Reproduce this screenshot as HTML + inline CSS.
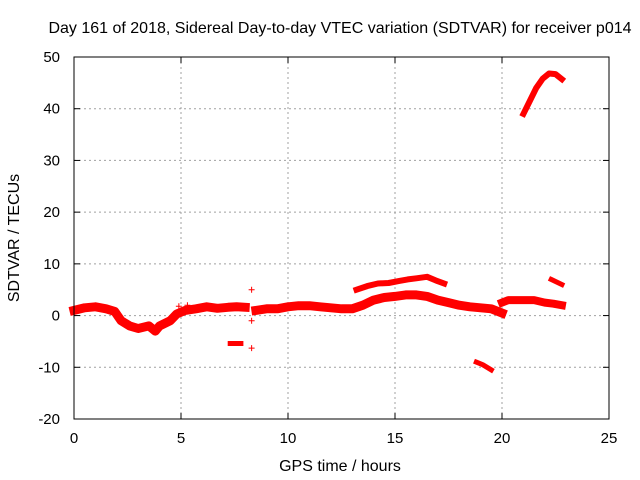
<!DOCTYPE html>
<html><head><meta charset="utf-8"><style>
body{margin:0;background:#fff;}
svg{display:block;font-family:"Liberation Sans",sans-serif;}
</style></head><body>
<svg id="chart" width="640" height="480">
<rect width="640" height="480" fill="#fff"/>
<text x="340" y="33" font-size="16" text-anchor="middle">Day 161 of 2018, Sidereal Day-to-day VTEC variation (SDTVAR) for receiver p014</text>
<text x="340" y="471" font-size="16" text-anchor="middle">GPS time / hours</text>
<text transform="translate(19,238) rotate(-90)" font-size="16" text-anchor="middle">SDTVAR / TECUs</text>
<g id="grid"></g><g id="marks"></g><g id="axes"></g>
</svg>
<script>
const xTicks=[0,5,10,15,20,25];
const yTicks=[-20,-10,0,10,20,30,40,50];
const mainX=[0,0.5,1,1.5,1.9,2.2,2.6,3,3.5,3.8,4,4.5,4.8,5.2,5.7,6.2,6.7,7.2,7.6,8];
const mainY=[1,1.5,1.7,1.3,0.8,-1,-2,-2.5,-2,-3,-2,-1,0.3,1,1.3,1.7,1.4,1.6,1.7,1.6];
const midX=[8.5,9,9.5,10,10.5,11,11.5,12,12.5,13,13.5,14,14.5,15,15.5,16,16.5,17,17.5,18,18.5,19,19.5,20];
const midY=[1,1.3,1.3,1.7,1.9,1.9,1.7,1.5,1.3,1.3,2,3,3.5,3.7,4,4,3.7,3,2.5,2,1.7,1.5,1.3,0.5];
const lateX=[20,20.3,20.7,21,21.5,22,22.4,22.8];
const lateY=[2.5,3,3,3,3,2.5,2.3,2];
const upperX=[13.2,13.7,14.2,14.7,15.2,15.6,16,16.5,16.9,17.3];
const upperY=[5,5.7,6.2,6.3,6.7,7,7.2,7.5,6.8,6.2];
const dipX=[7.3,7.8];
const dipY=[-5.4,-5.4];
const negX=[18.8,19.1,19.5];
const negY=[-9,-9.5,-10.5];
const arcX=[21,21.3,21.6,21.9,22.2,22.5,22.8];
const arcY=[39,41.5,44,45.8,46.8,46.7,45.7];
const tailX=[22.3,22.8];
const tailY=[7,6];
const ptsX=[8.3,8.3,8.3,4.9,5.3];
const ptsY=[5,-6.3,-1,1.8,2];
const X0=74,X1=609,Y0=419,Y1=57;
const sx=v=>X0+(v-0)/25*(X1-X0);
const sy=v=>Y0-(v+20)/70*(Y0-Y1);
const NS="http://www.w3.org/2000/svg";
const g=document.getElementById('grid'),m=document.getElementById('marks'),a=document.getElementById('axes');
function el(t,at,p){const e=document.createElementNS(NS,t);for(const k in at)e.setAttribute(k,at[k]);p.appendChild(e);return e;}
xTicks.forEach(t=>{const x=sx(t);
 if(t>0&&t<25){const l=el('line',{x1:x,x2:x,y1:Y1,y2:Y0,stroke:'#a0a0a0','stroke-dasharray':'2,3','stroke-width':1},g);
 
 }
 el('line',{x1:x,x2:x,y1:Y0,y2:Y0-6,stroke:'#000'},a);el('line',{x1:x,x2:x,y1:Y1,y2:Y1+6,stroke:'#000'},a);
 const tx=el('text',{x:x,y:Y0+24,'font-size':15,'text-anchor':'middle'},a);tx.textContent=t;
 
 });
yTicks.forEach(t=>{const y=sy(t);
 if(t>-20&&t<50){const l=el('line',{x1:X0,x2:X1,y1:y,y2:y,stroke:'#a0a0a0','stroke-dasharray':'2,3','stroke-width':1},g);
 
 }
 el('line',{x1:X0,x2:X0+6,y1:y,y2:y,stroke:'#000'},a);el('line',{x1:X1,x2:X1-6,y1:y,y2:y,stroke:'#000'},a);
 const tx=el('text',{x:X0-14,y:y+5,'font-size':15,'text-anchor':'end'},a);tx.textContent=t;
 
 });
const fr=el('rect',{x:X0,y:Y1,width:X1-X0,height:Y0-Y1,fill:'none',stroke:'#000'},a);


function trace(xs,ys,w,name){const d=xs.map((x,i)=>(i?'L':'M')+sx(x).toFixed(1)+','+sy(ys[i]).toFixed(1)).join('');
 const p=el('path',{d:d,fill:'none',stroke:'#f00','stroke-width':w,'stroke-linejoin':'round','stroke-linecap':'square'},m);
 
 }
trace(mainX,mainY,9,'series-main-early');
trace(midX,midY,9,'series-main-mid');
trace(lateX,lateY,8,'series-main-late');
trace(upperX,upperY,6,'series-upper-band');
trace(dipX,dipY,5,'series-dip');
trace(negX,negY,5,'series-negative');
trace(arcX,arcY,6,'series-arc');
trace(tailX,tailY,5,'series-tail');
ptsX.forEach((x,i)=>{const cx=sx(x),cy=sy(ptsY[i]);
 const p=el('path',{d:`M${cx-3},${cy}H${cx+3}M${cx},${cy-3}V${cy+3}`,stroke:'#f00','stroke-width':1},m);
 
 });
</script>
</body></html>
